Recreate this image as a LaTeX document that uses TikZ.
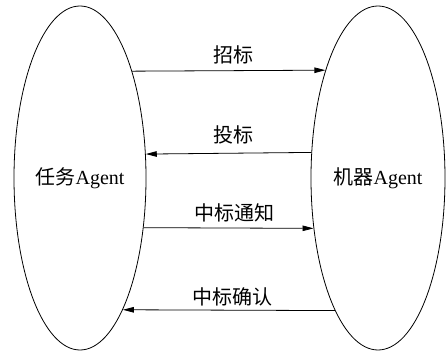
\documentclass[tikz,border=0pt]{standalone}
\usepackage{fontspec}
\setmainfont{Liberation Serif}
\newfontfamily\cjk{Noto Sans CJK SC}
\usetikzlibrary{arrows.meta,shapes.geometric}
\begin{document}
\begin{tikzpicture}[x=1pt,y=-1pt,
  agent/.style={draw, ellipse, line width=0.8pt, minimum width=132pt, minimum height=344pt, inner sep=0pt, font=\fontsize{20}{24}\selectfont},
  msg/.style={draw, line width=0.8pt, -{Triangle[length=11pt,width=5.5pt]}},
  lbl/.style={font=\cjk\fontsize{20}{24}\selectfont, inner sep=0pt}]
\useasboundingbox (0,0) rectangle (448,353);
\node[agent] (L) at (80,178) {{\cjk 任务}Agent};
\node[agent, minimum width=134pt] (R) at (378,178) {{\cjk 机器}Agent};
\draw[msg] (L.64.2) -- (R.116.1);
\draw[msg] (R.159.3) -- (L.20.9);
\draw[msg] (L.-38.4) -- (R.218);
\draw[msg] (R.252.6) -- (L.-72.8);
\node[lbl] (t1) at (233,55) {招标};
\node[lbl] (t2) at (233,135) {投标};
\node[lbl] (t3) at (234,213) {中标通知};
\node[lbl] (t4) at (232,297) {中标确认};
\end{tikzpicture}
\end{document}
